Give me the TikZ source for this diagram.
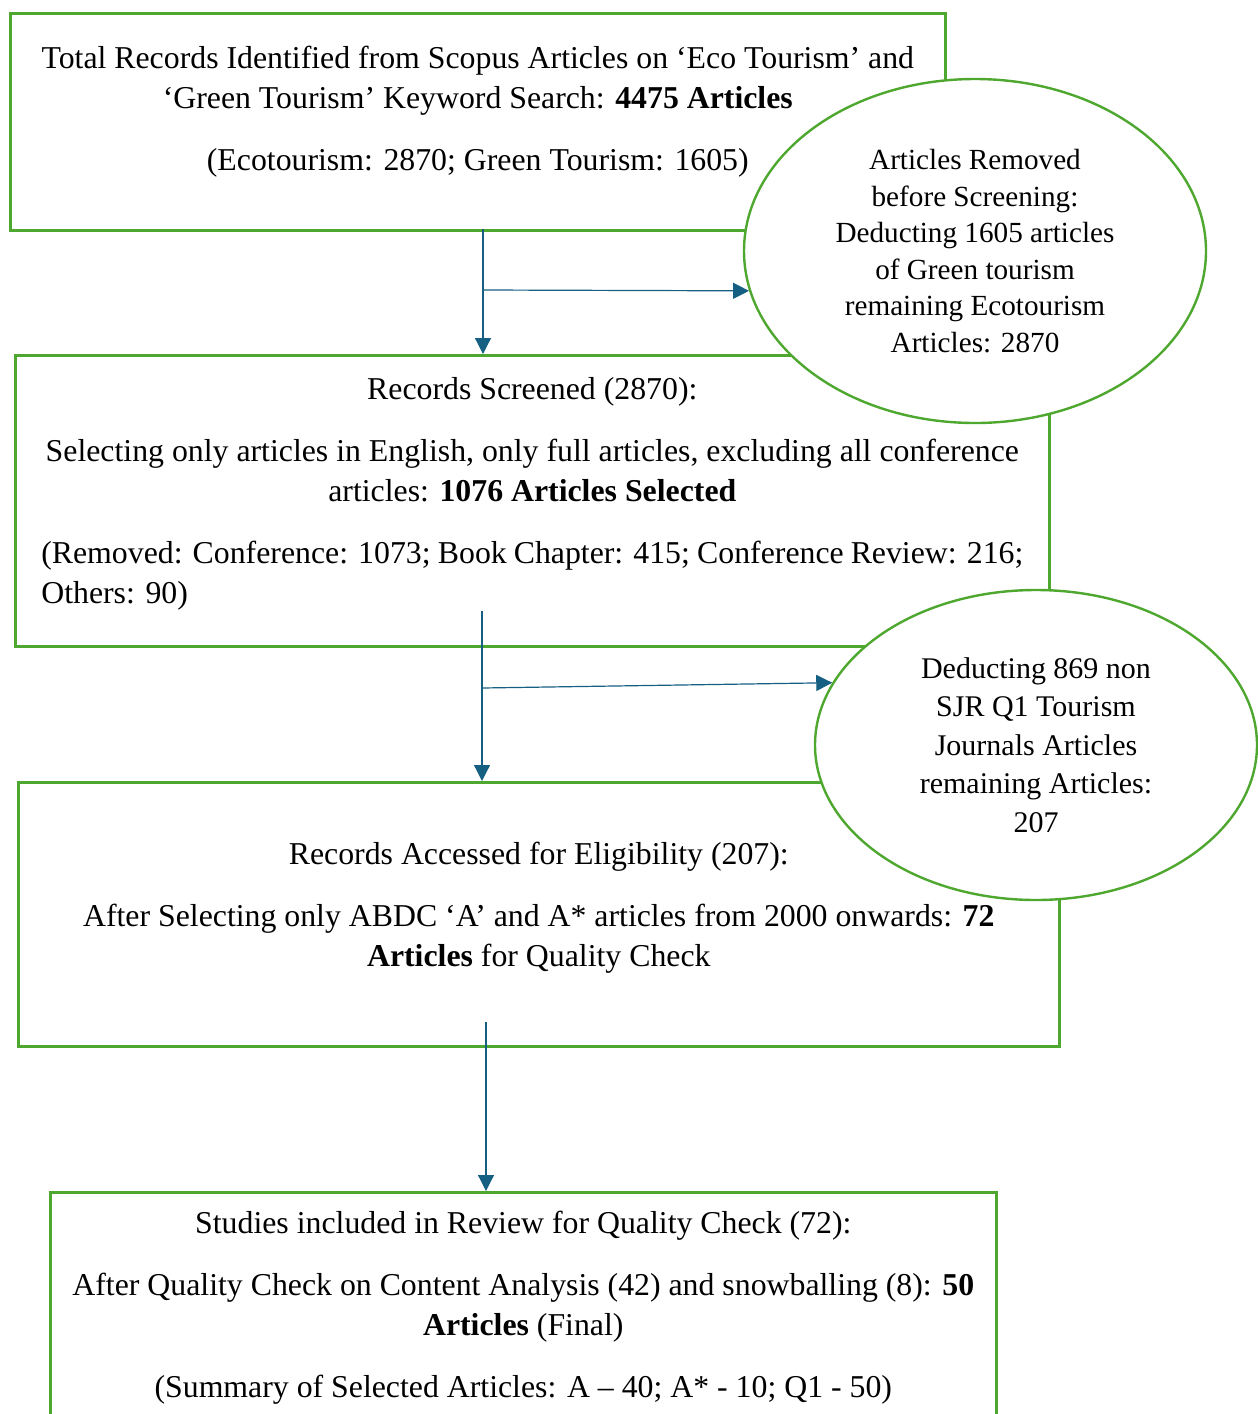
\documentclass[tikz,border=0pt]{standalone}
\usepackage{fontspec}
\setmainfont{Liberation Serif}
\usetikzlibrary{positioning,shapes.geometric,arrows.meta}
\definecolor{boxgreen}{RGB}{78,167,46}
\definecolor{arrowblue}{RGB}{21,96,130}

\begin{document}
\begin{tikzpicture}[x=1pt, y=-1pt,
        stage/.style={draw=boxgreen, line width=2.6pt, rectangle, inner sep=0pt, anchor=north west},
        stagetext/.style={align=center, inner sep=0pt, font=\fontsize{31.8}{40}\selectfont},
        removed/.style={draw=boxgreen, line width=2.4pt, ellipse, fill=white, inner sep=0pt, align=center},
        flow/.style={draw=arrowblue, line width=1.2pt, -{Triangle[length=16pt,width=16pt]}}
    ]
    \useasboundingbox (0,0) rectangle (1258,1414);

    \node[stage, minimum width=935pt, minimum height=217pt] (ident) at (9,12) {};
    \node[stage, minimum width=1034pt, minimum height=291pt] (screened) at (14,354) {};
    \node[stage, minimum width=1041pt, minimum height=264pt] (assessed) at (17,781) {};
    \node[stage, minimum width=946pt, minimum height=260pt] (included) at (49,1191) {};

    \node[stagetext, below=34pt of ident.north] (identtext)
        {Total Records Identified from Scopus Articles on ‘Eco Tourism’ and\\
         ‘Green Tourism’ Keyword Search: \textbf{4475 Articles}\\[22pt]
         (Ecotourism: 2870; Green Tourism: 1605)};
    \node[stagetext, below=23pt of screened.north] (screenedtext)
        {Records Screened (2870):\\[22pt]
         Selecting only articles in English, only full articles, excluding all conference\\
         articles: \textbf{1076 Articles Selected}\\[22pt]
         \makebox[982pt][s]{(Removed: Conference: 1073; Book Chapter: 415; Conference Review: 216;}\\
         \makebox[982pt][l]{Others: 90)}};
    \node[stagetext, below=61pt of assessed.north] (assessedtext)
        {Records Accessed for Eligibility (207):\\[22pt]
         After Selecting only ABDC ‘A’ and A* articles from 2000 onwards: \textbf{72}\\
         \textbf{Articles} for Quality Check};
    \node[stagetext, below=20pt of included.north] (includedtext)
        {Studies included in Review for Quality Check (72):\\[22pt]
         After Quality Check on Content Analysis (42) and snowballing (8): \textbf{50}\\
         \textbf{Articles} (Final)\\[22pt]
         (Summary of Selected Articles: A – 40; A* - 10; Q1 - 50)};

    \node[removed, minimum width=462pt, minimum height=344pt, font=\fontsize{29.2}{36.5}\selectfont] (screenout) at (975,251)
        {Articles Removed\\before Screening:\\Deducting 1605 articles\\of Green tourism\\remaining Ecotourism\\Articles: 2870};
    \node[removed, minimum width=442pt, minimum height=310pt, font=\fontsize{30}{38.5}\selectfont] (sjrout) at (1036,745)
        {Deducting 869 non\\SJR Q1 Tourism\\Journals Articles\\remaining Articles:\\207};

    \coordinate (split1) at (483,229);
    \coordinate (side1) at (483,290);
    \coordinate (split2) at (482,611);
    \coordinate (side2) at (482,688);
    \coordinate (split3) at (486,1022);

    \draw[flow] (split1) -- (split1 |- screened.north);
    \draw[flow] (side1) -- (screenout.190);
    \draw[flow] (split2) -- (split2 |- assessed.north);
    \draw[flow] (side2) -- (sjrout.163);
    \draw[flow] (split3) -- (split3 |- included.north);
\end{tikzpicture}
\end{document}
